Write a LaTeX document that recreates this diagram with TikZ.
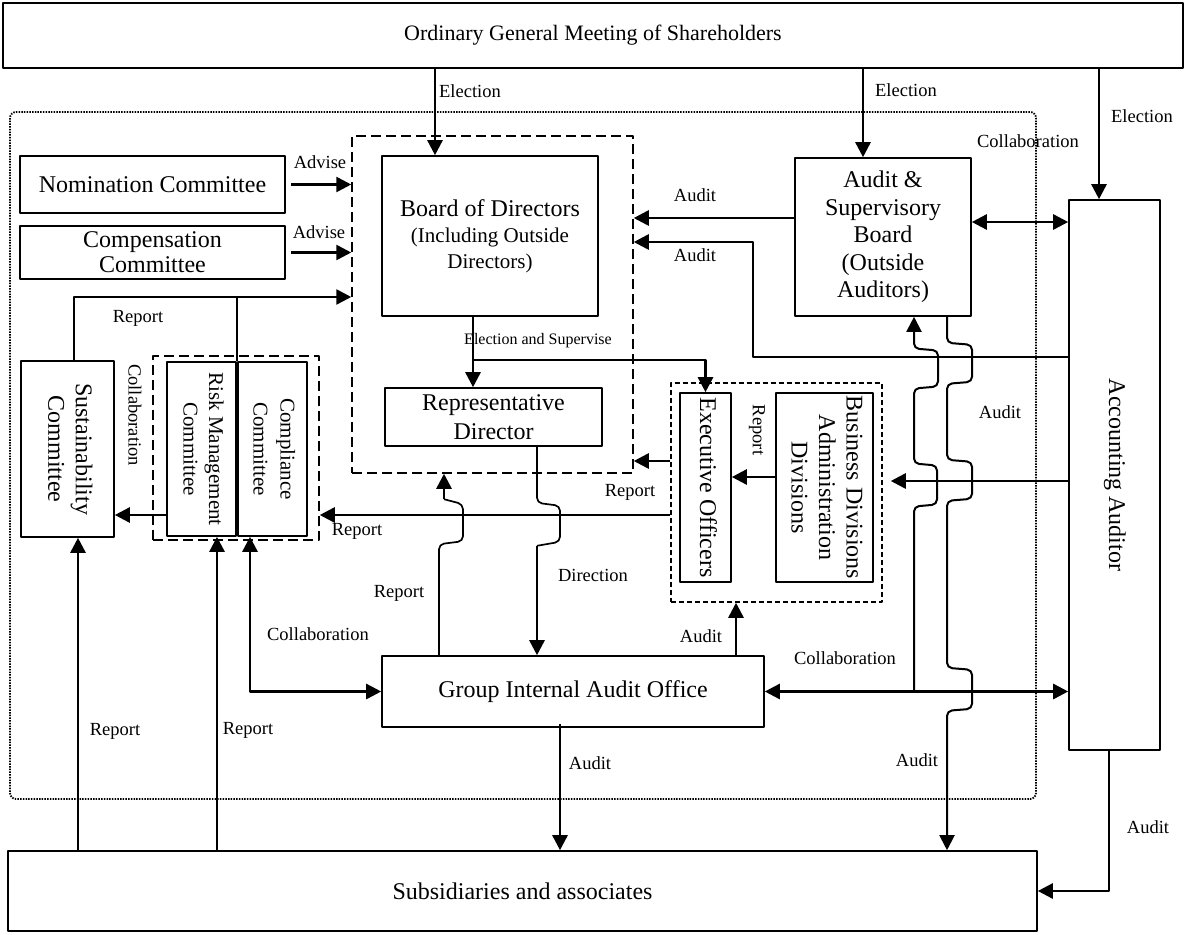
\documentclass[tikz,border=0pt]{standalone}
\usepackage{fontspec}
\setmainfont{Liberation Serif}
\usetikzlibrary{arrows.meta}

% text that reads top to bottom inside a tall box
\newcommand{\vtxt}[1]{\rotatebox{-90}{\begin{tabular}{@{}c@{}}#1\end{tabular}}}

\begin{document}
\begin{tikzpicture}[x=1pt, y=-1pt, line join=round,
  box/.style={draw, line width=1.6pt, inner sep=0pt, align=center,
    font=\fontsize{24}{27.5}\selectfont},
  grp/.style={draw, line width=1.5pt, inner sep=0pt, dash pattern=on 10pt off 5pt},
  lbl/.style={inner sep=0pt, font=\fontsize{18.5}{21}\selectfont},
  arr/.style={line width=2.6pt, -{Triangle[width=15pt,length=15pt]}},
  dbl/.style={line width=2.6pt, {Triangle[width=15pt,length=15pt]}-{Triangle[width=15pt,length=15pt]}},
  ln/.style={line width=1.7pt}]

  % ════ outer frame (dotted) ════
  \draw[line width=1.8pt, dash pattern=on 1.5pt off 1.2pt, rounded corners=6pt] (10,112) rectangle (1036,799);

  % ════ boxes ════
  \node[box, minimum width=1180, minimum height=65, font=\fontsize{22}{26}\selectfont] (gms) at (593,35.5) {Ordinary General Meeting of Shareholders};
  \node[box, minimum width=265, minimum height=57] (nom) at (152.5,184.5) {Nomination Committee};
  \node[box, minimum width=265, minimum height=53] (com) at (152.5,252.5) {Compensation\\[-2.5pt]Committee};

  \node[grp, minimum width=281, minimum height=337] (bodgrp) at (492.5,304.5) {};
  \node[box, minimum width=216, minimum height=160] (bod) at (490,236)
    {Board of Directors\\[-1pt]\fontsize{21}{25}\selectfont(Including Outside\\[-2pt]\fontsize{21}{25}\selectfont Directors)};
  \node[box, minimum width=217, minimum height=58] (rep) at (493.5,417) {Representative\\[1.5pt]Director};

  \node[box, minimum width=176, minimum height=158] (asb) at (883,237) {Audit \&\\Supervisory\\Board\\(Outside\\Auditors)};
  \node[box, minimum width=91, minimum height=550] (acc) at (1114.5,475) {\vtxt{Accounting Auditor}};

  \node[box, minimum width=93, minimum height=176] (sus) at (67.5,449) {\vtxt{Sustainability\\Committee}};
  \node[grp, minimum width=166, minimum height=184] (rcgrp) at (236,448) {};
  \node[box, minimum width=69, minimum height=174, font=\fontsize{21}{25.5}\selectfont] (rsk) at (201.5,449) {\vtxt{Risk Management\\Committee}};
  \node[box, minimum width=69, minimum height=174, font=\fontsize{21}{27}\selectfont] (cmp) at (272.5,449) {\vtxt{Compliance\\Committee}};

  \node[grp, dash pattern=on 5pt off 3pt, minimum width=211, minimum height=219] (exegrp) at (776.5,492.5) {};
  \node[box, minimum width=51, minimum height=189] (exe) at (705.5,487.5) {\vtxt{Executive Officers}};
  \node[box, minimum width=97, minimum height=189] (bus) at (824.5,487.5) {\vtxt{Business Divisions\\Administration\\Divisions}};

  \node[box, minimum width=382, minimum height=71] (gia) at (573,691.5) {Group Internal Audit Office};
  \node[box, minimum width=1029, minimum height=80] (sub) at (522.5,891) {Subsidiaries and associates};

  % ════ guide positions for the lines ════
  \coordinate (xe1) at (435,0);   \coordinate (xe2) at (863,0);   \coordinate (xe3) at (1099,0);
  \coordinate (xsus) at (74,0);   \coordinate (yrep) at (0,297);
  \coordinate (xes) at (473,0);   \coordinate (yes) at (0,360);
  \coordinate (ya1) at (0,218);   \coordinate (ya2) at (0,357);   \coordinate (ya3) at (0,242);  \coordinate (xa2) at (753,0);
  \coordinate (yc1) at (0,222);
  \coordinate (yr1) at (0,461);   \coordinate (yr2) at (0,515);   \coordinate (yr3) at (0,477);  \coordinate (yr4) at (0,481);
  \coordinate (xA) at (914,0);    \coordinate (xB) at (947,0);    \coordinate (xacc) at (1109,0);
  \coordinate (xg1) at (736,0);   \coordinate (xg2) at (560,0);
  \coordinate (xd) at (537,0);    \coordinate (xr) at (439,0);    \coordinate (xcl) at (250,0);
  \coordinate (xs1) at (78,0);    \coordinate (xs2) at (217,0);

  % ════ election ════
  \draw[arr] (gms.south -| xe1) -- (bod.north -| xe1);
  \draw[arr] (gms.south -| xe2) -- (asb.north -| xe2);
  \draw[arr] (gms.south -| xe3) -- (acc.north -| xe3);

  % ════ committees -> board ════
  \draw[arr] ([xshift=5]nom.east) -- (bodgrp.west |- nom.east);
  \draw[arr] ([xshift=5]com.east) -- (bodgrp.west |- com.east);
  \draw[arr] (sus.north -| xsus) |- (bodgrp.west |- yrep);
  \draw[ln] (rsk.north east) -- (rsk.north east |- yrep);

  % ════ board -> representative / executive officers ════
  \draw[arr] (bod.south -| xes) -- (rep.north -| xes);
  \draw[arr] (yes -| xes) -| (exe.north);

  % ════ audit & supervisory board / accounting auditor ════
  \draw[arr] (asb.west |- ya1) -- (bodgrp.east |- ya1);
  \draw[arr] (acc.west |- ya2) -| (xa2 |- ya3) -- (bodgrp.east |- ya3);
  \draw[dbl] (asb.east |- yc1) -- (acc.west |- yc1);
  \draw[arr, shorten >=8pt] (acc.west |- yr4) -- (exegrp.east |- yr4);

  % ════ reports ════
  \draw[arr] (exegrp.west |- yr1) -- (bodgrp.east |- yr1);
  \draw[arr] (exegrp.west |- yr2) -- (rcgrp.east |- yr2);
  \draw[arr] (rsk.west |- yr2) -- (sus.east |- yr2);
  \draw[arr] (bus.west |- yr3) -- (exe.east |- yr3);
  \draw[arr] (sub.north -| xs1) -- (sus.south -| xs1);
  \draw[arr] (sub.north -| xs2) -- (rsk.south -| xs2);

  % ════ group internal audit office ════
  \draw[dbl] (cmp.south -| xcl) |- (gia.west);
  \draw[dbl] (gia.east) -- (acc.west |- gia.east);
  \draw[arr] (gia.north -| xg1) -- (exegrp.south -| xg1);
  \draw[arr] ([yshift=4]gia.south -| xg2) -- (sub.north -| xg2);
  % direction (hops over the report line)
  \draw[ln, rounded corners=5pt] (rep.south -| xd) -- ++(0,56) -- ++(23,3) -- ++(0,36) -- ++(-23,4) coordinate (dhop);
  \draw[arr] (dhop) -- (dhop |- gia.north);
  % report up to the board (hops over the report line)
  \draw[ln, rounded corners=5pt] (gia.north -| xr) -- ++(0,-111) -- ++(24,-3) -- ++(0,-37) -- ++(-19,-5) coordinate (rhop);
  \draw[arr] (rhop) -- (rhop |- bodgrp.south);

  % ════ lines with hops on the right ════
  \draw[arr, line width=2pt, rounded corners=5pt] (gia.east -| xA) -- ++(0,-185) -- ++(23,-2) -- ++(0,-39) -- ++(-23,-2)
     -- ++(0,-75) -- ++(24,-2) -- ++(0,-36) -- ++(-24,-2) -- (asb.south -| xA);
  \draw[arr, line width=2pt, rounded corners=5pt] (asb.south -| xB) -- ++(0,26) -- ++(25,2) -- ++(0,37) -- ++(-25,2)
     -- ++(0,76) -- ++(25,2) -- ++(0,37) -- ++(-25,2)
     -- ++(0,167) -- ++(25,2) -- ++(0,39) -- ++(-25,2) -- (sub.north -| xB);
  \draw[arr] (acc.south -| xacc) |- (sub.east);

  % ════ labels ════
  \node[lbl] (l-el1) at (470,91) {Election};
  \node[lbl] (l-el2) at (906,90) {Election};
  \node[lbl] (l-el3) at (1142,116) {Election};
  \node[lbl] (l-adv1) at (320,162) {Advise};
  \node[lbl] (l-adv2) at (319,232) {Advise};
  \node[lbl] (l-rep1) at (138,318) {Report};
  \node[lbl, font=\fontsize{16}{19}\selectfont] (l-els) at (538,341) {Election and Supervise};
  \node[lbl] (l-aud1) at (695,195) {Audit};
  \node[lbl] (l-aud2) at (695,255) {Audit};
  \node[lbl] (l-col1) at (1028,141) {Collaboration};
  \node[lbl] (l-rep2) at (630,492) {Report};
  \node[lbl] (l-rep3) at (357,531) {Report};
  \node[lbl, rotate=-90] (l-rep4) at (757,430) {Report};
  \node[lbl, rotate=-90] (l-col2) at (135,415) {Collaboration};
  \node[lbl] (l-rep5) at (399,593) {Report};
  \node[lbl] (l-dir) at (593,575) {Direction};
  \node[lbl] (l-aud3) at (701,636) {Audit};
  \node[lbl] (l-col3) at (318,634) {Collaboration};
  \node[lbl] (l-col4) at (845,658) {Collaboration};
  \node[lbl] (l-aud4) at (1000,412) {Audit};
  \node[lbl] (l-aud5) at (917,760) {Audit};
  \node[lbl] (l-aud6) at (590,763) {Audit};
  \node[lbl] (l-rep6) at (115,731) {Report};
  \node[lbl] (l-rep7) at (248,730) {Report};
  \node[lbl] (l-aud7) at (1148,827) {Audit};

  \path[use as bounding box] (0,0) rectangle (1193,934);
\end{tikzpicture}
\end{document}
